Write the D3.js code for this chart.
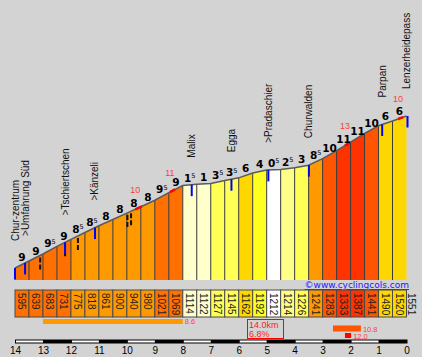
<!DOCTYPE html>
<html><head><meta charset="utf-8">
<script src="https://cdn.jsdelivr.net/npm/d3@7"></script>
<style>
html,body{margin:0;padding:0;background:#d3d3d3;}
svg{display:block;}
</style>
</head><body>
<svg id="chart" width="422" height="357"></svg>
<script>
// ---------- data ----------
const elevations = [595,639,683,731,775,818,861,900,940,980,1021,1069,1114,1122,1127,1145,1162,1192,1212,1214,1226,1241,1283,1333,1387,1441,1490,1520,1551];
const grades = [9,9,9.5,9,8.5,8.5,8,8,8,8,9.5,9,1.5,1,3.5,3.5,6,4,0.5,2.5,3,8.5,10,11,11,10,6,6];
const placeNames = ["Chur-zentrum",">Umfahrung Süd",">Tschiertschen",">Känzeli","Malix","Egga",">Pradaschier","Churwalden","Parpan","Lenzerheidepass"];
const placeKm = [14,13.64,12.21,11.14,7.68,6.26,4.94,3.49,0.87,0];
const junctionKm = [13.1,12.21,11.75,9.98,9.85];
const steepFrom = [9.7,8.46,2.2,0.3];
const steepTo = [9.46,8.28,2.02,0.12];
const steepGrade = [10,11,13,10];
const maxAvgFrom = [13,2.63,2.2];
const maxAvgTo = [8,1.63,1.98];
const maxAvgGrade = [8.6,10.8,12.0];
const totalKm = 14.0, avgGrade = 6.8;
const kmTicks = d3.range(14,-1,-1);
const segKm = 0.5;

// ---------- scales ----------
const svg = d3.select("#chart");
const x = d3.scaleLinear().domain([14,0]).range([15,406.5]);
const y = d3.scaleLinear().domain([519.5,1551]).range([280,116]);
const color = d3.scaleThreshold()
  .domain([1,2,3,4,5,6,7,8,9,10,11,12])
  .range(["#ffffff","#ffffcc","#ffff88","#ffff55","#ffff22","#fff000","#ffd700","#ffb800","#ff9900","#ff7000","#ff5500","#ff3300","#ff0000"]);
const kmAt = i => 14 - i*segKm;
const elevAtKm = km => {
  const t = (14-km)/segKm;
  const i = Math.min(Math.floor(t), elevations.length-2);
  const f = t - i;
  return elevations[i] + (elevations[i+1]-elevations[i])*f;
};
const yP = km => y(elevAtKm(km));
const base = y(519.5);

const segs = grades.map((g,i)=>({i,g,k0:kmAt(i),k1:kmAt(i+1),e0:elevations[i],e1:elevations[i+1]}));

// ---------- profile ----------
svg.append("g").selectAll("path").data(segs).join("path")
  .attr("d",d=>`M${x(d.k0)},${base}L${x(d.k0)},${y(d.e0)}L${x(d.k1)},${y(d.e1)}L${x(d.k1)},${base}Z`)
  .attr("fill",d=>color(d.g));

svg.append("g").selectAll("line").data(elevations.slice(1,-1)).join("line")
  .attr("x1",(e,i)=>x(kmAt(i+1))).attr("x2",(e,i)=>x(kmAt(i+1)))
  .attr("y1",e=>y(e)).attr("y2",base)
  .attr("stroke","#3a3a3a").attr("stroke-width",1);

svg.append("path").datum(elevations)
  .attr("d",d3.line().x((e,i)=>x(kmAt(i))).y(e=>y(e)))
  .attr("fill","none").attr("stroke","#5a5a5a").attr("stroke-width",1.5);

// steep stretches
svg.append("g").selectAll("line").data(steepGrade).join("line")
  .attr("x1",(g,i)=>x(steepFrom[i])).attr("y1",(g,i)=>yP(steepFrom[i]))
  .attr("x2",(g,i)=>x(steepTo[i])).attr("y2",(g,i)=>yP(steepTo[i]))
  .attr("stroke","#ff0000").attr("stroke-width",2.5);
svg.append("g").selectAll("text").data(steepGrade).join("text")
  .attr("x",(g,i)=>x(steepFrom[i])).attr("y",(g,i)=>yP(steepFrom[i])-16.5)
  .attr("text-anchor","middle").attr("font-family","Liberation Sans, Arial, sans-serif")
  .attr("font-size",9).attr("fill","#ff3c3c").text(g=>g);

// junction dashes
svg.append("g").selectAll("line").data(junctionKm).join("line")
  .attr("x1",k=>x(k)).attr("x2",k=>x(k))
  .attr("y1",k=>yP(k)+2).attr("y2",k=>yP(k)+16)
  .attr("stroke","#111").attr("stroke-width",2).attr("stroke-dasharray","5,2");

// place markers
svg.append("g").selectAll("line").data(placeKm).join("line")
  .attr("x1",k=>x(k)+(k===0?1:0)).attr("x2",k=>x(k)+(k===0?1:0))
  .attr("y1",k=>yP(k)).attr("y2",k=>yP(k)+11.5)
  .attr("stroke","#0000ff").attr("stroke-width",2);

// gradient labels
const gl = svg.append("g").attr("font-family","DejaVu Sans, Verdana, sans-serif").attr("font-weight","bold").attr("fill","#000");
segs.forEach(d=>{
  const t = gl.append("text")
    .attr("x",(x(d.k0)+x(d.k1))/2)
    .attr("y",y((d.e0+d.e1)/2)-3)
    .attr("text-anchor","middle").attr("font-size",10.5);
  const whole = Math.floor(d.g);
  t.append("tspan").text(whole);
  if (d.g % 1 !== 0) {
    t.append("tspan").attr("font-size",6.5).attr("font-weight","normal").attr("dy",-3.5).text("5");
  }
});

// place labels
svg.append("g").selectAll("text").data(placeNames).join("text")
  .attr("transform",(n,i)=>`translate(${x(placeKm[i])+3.5},${yP(placeKm[i])-27}) rotate(-90)`)
  .attr("font-family","Liberation Sans, Arial, sans-serif").attr("font-size",10)
  .attr("fill","#111").text(n=>n);

// watermark
svg.append("text").attr("x",409).attr("y",288).attr("text-anchor","end")
  .attr("font-family","DejaVu Sans, Verdana, sans-serif").attr("font-size",9)
  .attr("fill","#1a1aff").attr("text-decoration","underline").text("©www.cyclingcols.com");

// ---------- elevation table ----------
const tTop = 290, tH = 27;
svg.append("g").selectAll("rect").data(segs).join("rect")
  .attr("x",d=>x(d.k0)).attr("y",tTop).attr("width",d=>x(d.k1)-x(d.k0)).attr("height",tH)
  .attr("fill",d=>color(d.g)).attr("stroke","#4a4a4a").attr("stroke-width",1);
svg.append("g").selectAll("text").data(elevations).join("text")
  .attr("transform",(e,i)=>{
    const cx = i<segs.length ? (x(kmAt(i))+x(kmAt(i+1)))/2 : x(0)+4.5;
    return `translate(${cx},${tTop+3}) rotate(90)`;
  })
  .attr("dy","0.35em").attr("font-family","Liberation Sans, Arial, sans-serif")
  .attr("font-size",10).attr("fill","#222").text(e=>e);

// ---------- max averages ----------
const barY = [319,325.5,333], barH = [5,6,5];
svg.append("g").selectAll("rect").data(maxAvgGrade).join("rect")
  .attr("x",(g,i)=>x(maxAvgFrom[i])).attr("y",(g,i)=>barY[i])
  .attr("width",(g,i)=>x(maxAvgTo[i])-x(maxAvgFrom[i])).attr("height",(g,i)=>barH[i])
  .attr("fill",g=>color(Math.floor(g)));
svg.append("g").selectAll("text").data(maxAvgGrade).join("text")
  .attr("x",(g,i)=>x(maxAvgTo[i])+2).attr("y",(g,i)=>barY[i]+barH[i]+(i===2?1:0))
  .attr("font-family","Liberation Sans, Arial, sans-serif").attr("font-size",7.5)
  .attr("fill","#ff4040").text(g=>g.toFixed(1));

// summary box
svg.append("rect").attr("x",247.5).attr("y",319.5).attr("width",36).attr("height",19)
  .attr("fill","none").attr("stroke","#ff0000").attr("stroke-width",1);
const sb = svg.append("g").attr("font-family","Liberation Sans, Arial, sans-serif").attr("font-size",9).attr("fill","#ff2020");
sb.append("text").attr("x",249).attr("y",328).text(totalKm.toFixed(1)+"km");
sb.append("text").attr("x",249).attr("y",337).text(avgGrade.toFixed(1)+"%");

// ---------- km axis ----------
svg.append("rect").attr("x",x(14)).attr("y",339.5).attr("width",x(0)-x(14)+1).attr("height",4).attr("fill","#000");
svg.append("g").selectAll("rect").data(kmTicks.filter(k=>k>0 && k%2===0)).join("rect")
  .attr("x",k=>x(k)+1).attr("y",340.5).attr("width",k=>x(k-1)-x(k)-1).attr("height",2).attr("fill","#fff");
const ax = svg.append("g").attr("transform","translate(0,343)")
  .call(d3.axisBottom(x).tickValues(kmTicks).tickSize(0).tickPadding(4).tickFormat(d3.format("d")));
ax.select(".domain").remove();
ax.selectAll("text").attr("font-family","Liberation Sans, Arial, sans-serif").attr("font-size",10).attr("fill","#000");
</script>
</body></html>
